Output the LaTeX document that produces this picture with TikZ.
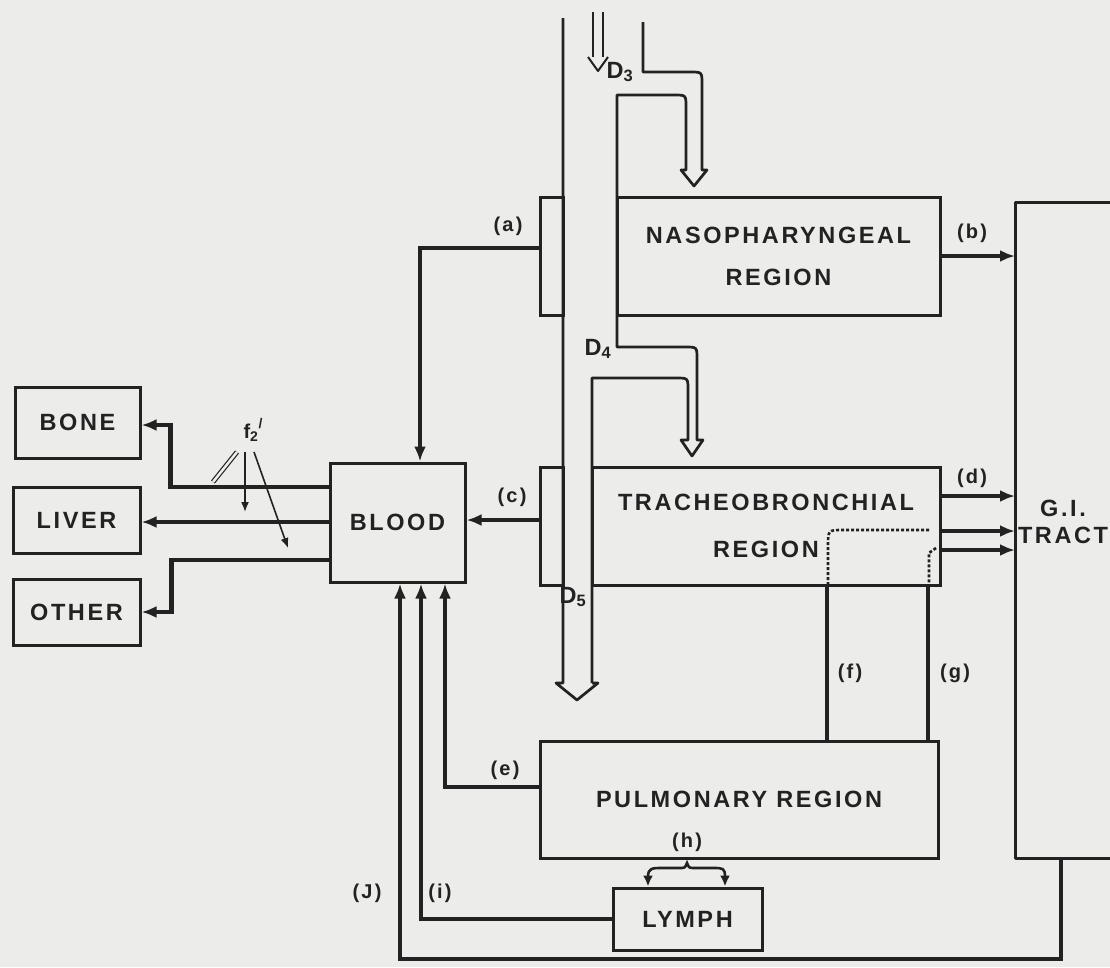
\documentclass[tikz,border=0pt]{standalone}
\usepackage{fontspec}
\usetikzlibrary{arrows.meta}
\newfontfamily\labfont[LetterSpace=11]{Liberation Sans}
\newcommand\biglab{\labfont\bfseries\fontsize{23.5}{28}\selectfont}
\newcommand\smllab{\labfont\bfseries\fontsize{20}{24}\selectfont}
\definecolor{bgc}{RGB}{236,236,234}
\definecolor{ink}{RGB}{34,34,34}
\tikzset{
  box/.style={draw=ink, line width=3pt, inner sep=0pt, font=\biglab, text=ink, align=center},
  conn/.style={draw=ink, line width=4.2pt, -{Latex[length=15pt,width=12pt]}},
  link/.style={draw=ink, line width=3.4pt},
  wall/.style={draw=ink, line width=2.7pt, line join=round},
  dots/.style={draw=ink, line width=2.6pt, dash pattern=on 3pt off 2pt},
  thinarr/.style={draw=ink, line width=1.6pt, -{Latex[length=10pt,width=8pt]}},
  lbl/.style={font=\smllab, text=ink, inner sep=0pt},
}
\begin{document}
\begin{tikzpicture}[x=1pt,y=-1pt]
\useasboundingbox (0,0) rectangle (1110,967);
\fill[bgc] (0,0) rectangle (1110,967);

% ---------- boxes ----------
\node[box, minimum width=323, minimum height=118] (np) at (778.5,256) {NASOPHARYNGEAL\\[14pt]REGION};
\node[box, minimum width=23, minimum height=118] (npear) at (551.5,256) {};
\node[box, minimum width=348, minimum height=118] (tb) at (766,526) {TRACHEOBRONCHIAL\\[19pt]REGION};
\node[box, minimum width=23, minimum height=118] (tbear) at (551.5,526) {};
\node[box, minimum width=135, minimum height=119] (blood) at (397.5,522.5) {BLOOD};
\node[box, minimum width=125, minimum height=71] (bone) at (77.5,422.5) {BONE};
\node[box, minimum width=127, minimum height=66] (liver) at (76.5,520) {LIVER};
\node[box, minimum width=127, minimum height=66] (other) at (76.5,612) {OTHER};
\node[box, minimum width=398, minimum height=117] (pul) at (739,799.5) {PULMONARY REGION};
\node[box, minimum width=149, minimum height=62] (lymph) at (687.5,919) {LYMPH};

% G.I. tract (cut by the right edge)
\draw[wall, line width=3pt] (1112,202) -- (1015,202) -- (1015,858) -- (1112,858);
\node[font=\biglab, text=ink, align=center, inner sep=0pt] (gi) at (1063,522) {G.I.\\[-1pt]TRACT};
\coordinate (gil) at (1015,530);
\coordinate (gib) at (1061,858);

% ---------- airway tube ----------
\draw[wall] (563,18) -- (563,683) -- (556,683) -- (577,700) -- (598,683) -- (592,683);
\draw[wall] (643,22) -- (643,72) -- (690,72) .. controls (702,72) .. (702,84) -- (702,170)
            -- (707,170) -- (694,186) -- (681,170) -- (686,170) -- (686,107)
            .. controls (686,95) .. (674,95) -- (617,95) -- (617,347)
            -- (685,347) .. controls (697,347) .. (697,359) -- (697,440)
            -- (703,440) -- (692,456) -- (681,440) -- (688,440) -- (688,390)
            .. controls (688,378) .. (676,378) -- (592,378) -- (592,683);
% incoming air
\draw[wall, line width=2pt] (593,12) -- (593,57);
\draw[wall, line width=2pt] (603,12) -- (603,57);
\draw[wall, line width=2pt] (588,57) -- (598,71) -- (608,57);
\node[lbl, font=\biglab] (d3) at (620,72) {D\textsubscript{3}};
\node[lbl, font=\biglab] (d4) at (598,349) {D\textsubscript{4}};
\node[lbl, font=\biglab] (d5) at (573,597) {D\textsubscript{5}};

% ---------- connectors ----------
\draw[conn] ([yshift=8pt]npear.west) -| ([xshift=22.5pt]blood.north);
\node[lbl] (la) at (508,226) {(a)};
\draw[conn] (np.east) -- (np.east -| gil);
\node[lbl] (lb) at (972,233) {(b)};
\draw[conn] ([yshift=6pt]tbear.west) -- ([yshift=6pt]tbear.west -| blood.east);
\node[lbl] (lc) at (512,497) {(c)};
\draw[conn] ([yshift=30pt]tb.east) -- ([yshift=30pt]tb.east -| gil);
\node[lbl] (ld) at (972,478) {(d)};
\draw[conn] ([yshift=-5pt]tb.east) -- ([yshift=-5pt]tb.east -| gil);
\draw[conn] ([yshift=-24pt]tb.east) -- ([yshift=-24pt]tb.east -| gil);

\draw[link] ([xshift=61pt]tb.south) -- ([xshift=61pt]tb.south |- pul.north);
\node[lbl] (lf) at (850,673) {(f)};
\draw[link] ([xshift=162pt]tb.south) -- ([xshift=162pt]tb.south |- pul.north);
\node[lbl] (lg) at (955,673) {(g)};
\draw[dots] (929,530) -- (843,530) .. controls (828,530) .. (828,546) -- (828,585);
\draw[dots] (936,548) -- (929,553) -- (929,585);

\draw[conn] ([yshift=12.5pt]pul.west) -| ([xshift=47.5pt]blood.south);
\node[lbl] (le) at (505,770) {(e)};
\draw[conn] (lymph.west) -| ([xshift=23.5pt]blood.south);
\node[lbl] (li) at (440,893) {(i)};
\draw[conn] (gib) -- ++(0,101) -| ([xshift=2.5pt]blood.south);
\node[lbl] (lj) at (367,893) {(J)};

\draw[draw=ink, line width=2.6pt, {Latex[length=11pt,width=10pt]}-{Latex[length=11pt,width=10pt]}]
  ([xshift=-39.5pt]lymph.north) -- (648,877) .. controls (648,868) and (652,868) .. (662,868)
  -- (679,868) .. controls (685,868) .. (687,863) .. controls (689,868) .. (695,868)
  -- (713,868) .. controls (723,868) and (725,868) .. (725,877) -- ([xshift=37.5pt]lymph.north);
\node[lbl] (lh) at (687,842) {(h)};

% blood -> organs
\draw[conn] ([yshift=35.5pt]blood.west) -- ++(-158,0) |- ([yshift=-2.5pt]bone.east);
\draw[conn] ([yshift=0.5pt]blood.west) -- ([yshift=0.5pt]blood.west -| liver.east);
\draw[conn] ([yshift=-37.5pt]blood.west) -- ++(-157,0) |- (other.east);

% f2' fractions
\node[lbl] (f2) at (253,430) {f\textsubscript{2}\raisebox{10pt}{\fontsize{14}{14}\selectfont /}};
\coordinate (f2a) at (213,482);
\coordinate (f2b) at (245,512);
\coordinate (f2c) at (288,548);
\draw[draw=ink, line width=1.2pt, double=bgc, double distance=2.5pt] (237,452) -- (f2a);
\draw[thinarr] (245,452) -- (f2b);
\draw[thinarr] (254,452) -- (f2c);
\end{tikzpicture}
\end{document}
